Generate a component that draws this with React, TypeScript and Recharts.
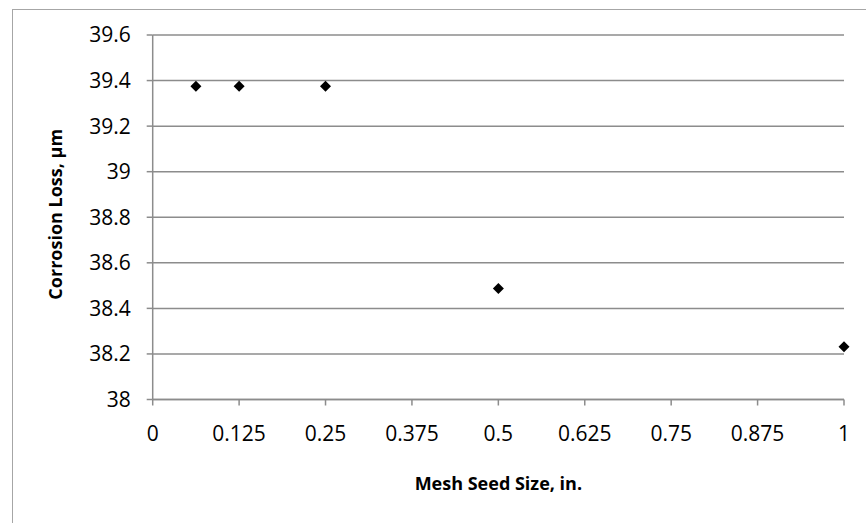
import React from 'react';
import { ScatterChart, Scatter, XAxis, YAxis, CartesianGrid, Label } from 'recharts';

// mesh seed size (in.) vs corrosion loss (µm)
const seedSizes = [0.0625, 0.125, 0.25, 0.5, 1];
const corrosionLoss = [39.375, 39.375, 39.375, 38.487, 38.232];

const xTicks = [0, 0.125, 0.25, 0.375, 0.5, 0.625, 0.75, 0.875, 1];
const yTicks = [38, 38.2, 38.4, 38.6, 38.8, 39, 39.2, 39.4, 39.6];

const data = seedSizes.map((x, i) => ({ x, y: corrosionLoss[i] }));

const FONT = '"Open Sans", sans-serif';
const GRID = '#8c8c8c';

const Diamond = (props: any) => {
  const { cx, cy } = props;
  if (cx == null || cy == null) return null;
  const r = 5.5;
  return (
    <polygon
      points={`${cx},${cy - r} ${cx + r},${cy} ${cx},${cy + r} ${cx - r},${cy}`}
      fill="#000"
    />
  );
};

const fmtY = (v: number) => String(Number(v.toFixed(1)));

export default function App() {
  return (
    <div
      style={{
        position: 'fixed',
        left: 0,
        top: 0,
        width: 866,
        height: 523,
        overflow: 'hidden',
        background: '#fff',
        fontFamily: FONT,
      }}
    >
      <div
        style={{
          position: 'absolute',
          left: 12,
          top: 9,
          width: 900,
          height: 600,
          border: '1.5px solid #a6a6a6',
        }}
      />
      <div style={{ position: 'absolute', left: 0, top: 0 }}>
        <ScatterChart
          width={866}
          height={523}
          margin={{ top: 35, right: 22, bottom: 0, left: 0 }}
        >
          <CartesianGrid horizontal vertical={false} stroke={GRID} strokeWidth={1.5} />
          <XAxis
            type="number"
            dataKey="x"
            domain={[0, 1]}
            ticks={xTicks}
            height={123.5}
            tickSize={6}
            tickMargin={21}
            axisLine={{ stroke: GRID, strokeWidth: 1.5 }}
            tickLine={{ stroke: GRID, strokeWidth: 1.5 }}
            tick={{ fill: '#000', fontSize: 21, fontFamily: FONT }}
            interval={0}
          >
            <Label
              content={({ viewBox }: any) => (
                <text
                  x={viewBox.x + viewBox.width / 2}
                  y={490}
                  textAnchor="middle"
                  fontFamily={FONT}
                  fontSize={18}
                  fontWeight="bold"
                  fill="#000"
                >
                  Mesh Seed Size, in.
                </text>
              )}
            />
          </XAxis>
          <YAxis
            type="number"
            dataKey="y"
            domain={[38, 39.6]}
            ticks={yTicks}
            width={152.7}
            tickSize={6}
            tickMargin={16}
            tickFormatter={fmtY}
            axisLine={{ stroke: GRID, strokeWidth: 1.5 }}
            tickLine={{ stroke: GRID, strokeWidth: 1.5 }}
            tick={{ fill: '#000', fontSize: 21, fontFamily: FONT }}
            interval={0}
          >
            <Label
              content={({ viewBox }: any) => {
                const cx = 62;
                const cy = viewBox.y + viewBox.height / 2 - 3;
                return (
                  <text
                    x={cx}
                    y={cy}
                    transform={`rotate(-90, ${cx}, ${cy})`}
                    textAnchor="middle"
                    fontFamily={FONT}
                    fontSize={18}
                    fontWeight="bold"
                    fill="#000"
                  >
                    Corrosion Loss, µm
                  </text>
                );
              }}
            />
          </YAxis>
          <Scatter data={data} shape={<Diamond />} isAnimationActive={false} />
        </ScatterChart>
      </div>
    </div>
  );
}
